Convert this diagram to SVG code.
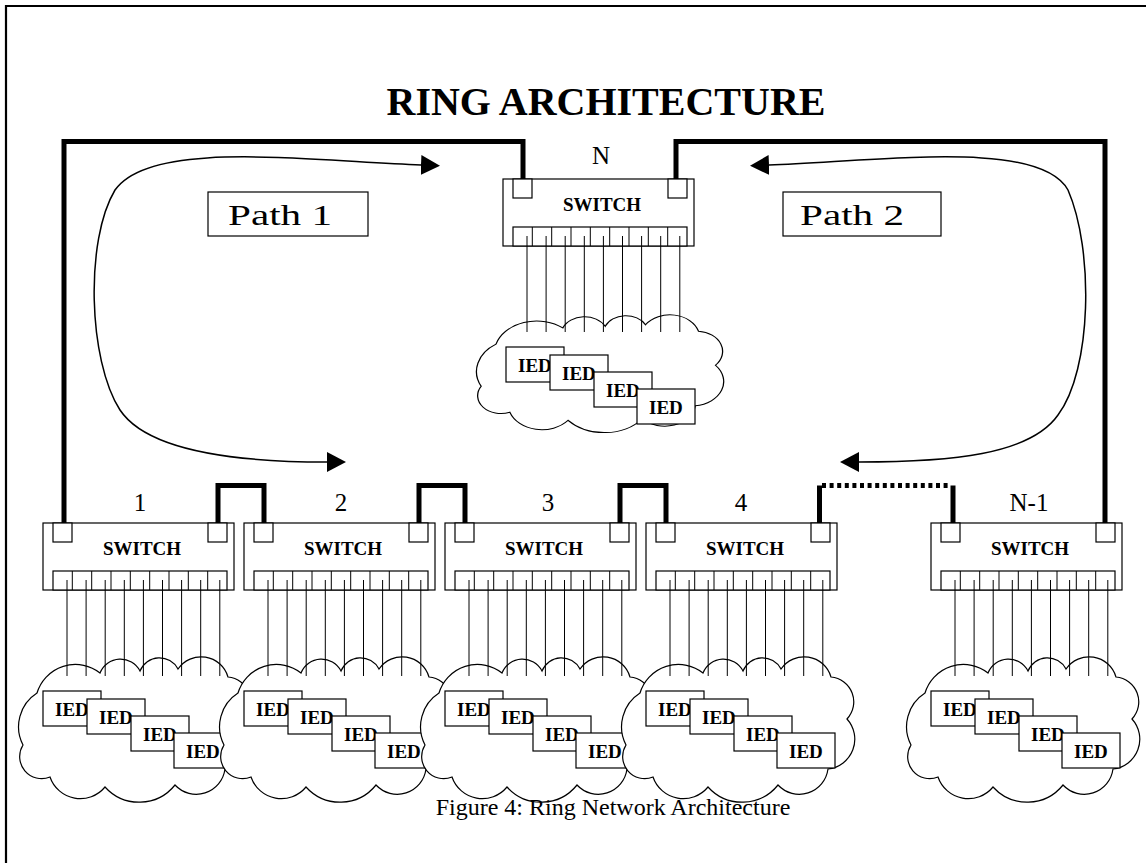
<svg xmlns="http://www.w3.org/2000/svg" xmlns:xlink="http://www.w3.org/1999/xlink" width="1146" height="863" viewBox="0 0 1146 863">
<style>
.thin{fill:#fff;stroke:#000;stroke-width:1.2}
.wire{fill:none;stroke:#000;stroke-width:1}
.ring{fill:none;stroke:#000;stroke-width:5}
.curve{fill:none;stroke:#000;stroke-width:1.5}
.lbl{font-family:"Liberation Serif",serif;font-size:25px;text-anchor:middle}
.sw{font-family:"Liberation Serif",serif;font-weight:bold;font-size:19px;text-anchor:middle}
.ied{font-family:"Liberation Serif",serif;font-weight:bold;font-size:19px}
.title{font-family:"Liberation Serif",serif;font-weight:bold;font-size:40px;text-anchor:middle}
.plabel{font-family:"Liberation Serif",serif;font-size:30px}
.cap{font-family:"Liberation Serif",serif;font-size:24px;text-anchor:middle}
</style>
<defs>
<marker id="ah" markerUnits="userSpaceOnUse" markerWidth="20" markerHeight="22" refX="0" refY="10" orient="auto-start-reverse" viewBox="0 0 20 20">
<path d="M0,0 L19,10 L0,20 Z" fill="#000"/>
</marker>
<path id="cloud" class="thin" d="M17 36 A40 40 0 0 1 80 16 A22 22 0 0 1 120 14 A21 21 0 0 1 158 12 A28 28 0 0 1 208 20 A25 25 0 0 1 224 62 A30 30 0 0 1 205 112 A29 29 0 0 1 155 128 A46 46 0 0 1 85 130 A32 32 0 0 1 30 120 A22 22 0 0 1 3 88 A40 40 0 0 1 17 36 Z"/>
<g id="switch">
<rect class="thin" x="0" y="0" width="191" height="67"/>
<rect class="thin" x="10" y="0" width="19" height="19"/>
<rect class="thin" x="165" y="0" width="19" height="19"/>
<rect class="thin" x="10" y="48" width="174" height="19"/>
<path class="wire" d="M29.3 48V67M48.7 48V67M68 48V67M87.3 48V67M106.7 48V67M126 48V67M145.3 48V67M164.7 48V67"/>
<path class="wire" d="M24 57V153M43.1 57V153M62.2 57V153M81.3 57V153M100.4 57V153M119.5 57V153M138.6 57V153M157.7 57V153M176.8 57V153"/>
</g>
</defs>
<rect x="0" y="0" width="1146" height="863" fill="#fff"/>
<path d="M6 863V6H1146" fill="none" stroke="#000" stroke-width="2.2"/>
<text class="title" x="606" y="115">RING ARCHITECTURE</text>

<g id="connectors">
<path class="ring" d="M64 523V141.5H523V179"/>
<path class="ring" d="M676 179V141.5H1105V523"/>
<path class="ring" d="M218 523V485.5H264V523"/>
<path class="ring" d="M419 523V485.5H465V523"/>
<path class="ring" d="M620 523V485.5H666V523"/>
<path class="ring" d="M819.5 523V485.5M953 485.5V523"/>
<path class="ring" d="M822 485.5H951" stroke-dasharray="4 3.6"/>
<path class="curve" d="M421 165 C300 160,150 140,115 190 C85 240,88 360,120 410 C150 455,250 462,327 462" marker-start="url(#ah)" marker-end="url(#ah)"/>
<path class="curve" d="M769 165 C890 160,1040 140,1068 190 C1094 250,1092 370,1058 415 C1030 455,950 462,859 462" marker-start="url(#ah)" marker-end="url(#ah)"/>
</g>

<g id="path1-label">
<rect class="thin" x="208" y="192" width="160" height="44"/>
<text class="plabel" x="228" y="225" textLength="104" lengthAdjust="spacingAndGlyphs">Path 1</text>
</g>
<g id="path2-label">
<rect class="thin" x="783" y="192" width="158" height="44"/>
<text class="plabel" x="800" y="225" textLength="104" lengthAdjust="spacingAndGlyphs">Path 2</text>
</g>

<g id="node-N" transform="translate(503,179)">
<use xlink:href="#cloud" transform="translate(-25,136) scale(1.06,0.81)"/>
<use xlink:href="#switch"/>
<text class="sw" x="99" y="32">SWITCH</text>
<text class="lbl" x="98" y="-15">N</text>
<g transform="translate(3,0)">
<rect class="thin" x="0" y="168" width="58" height="35"/><text class="ied" x="12" y="193">IED</text>
<rect class="thin" x="44" y="176" width="58" height="35"/><text class="ied" x="56" y="201">IED</text>
<rect class="thin" x="88" y="193" width="58" height="35"/><text class="ied" x="100" y="218">IED</text>
<rect class="thin" x="131" y="210" width="58" height="35"/><text class="ied" x="143" y="235">IED</text>
</g>
</g>

<g id="node-1" transform="translate(43,523)">
<use xlink:href="#cloud" transform="translate(-23,134)"/>
<use xlink:href="#switch"/>
<text class="sw" x="99" y="32">SWITCH</text>
<text class="lbl" x="97" y="-12">1</text>
<rect class="thin" x="0" y="168" width="58" height="35"/><text class="ied" x="12" y="193">IED</text>
<rect class="thin" x="44" y="176" width="58" height="35"/><text class="ied" x="56" y="201">IED</text>
<rect class="thin" x="88" y="193" width="58" height="35"/><text class="ied" x="100" y="218">IED</text>
<rect class="thin" x="131" y="210" width="58" height="35"/><text class="ied" x="143" y="235">IED</text>
</g>

<g id="node-2" transform="translate(244,523)">
<use xlink:href="#cloud" transform="translate(-23,134)"/>
<use xlink:href="#switch"/>
<text class="sw" x="99" y="32">SWITCH</text>
<text class="lbl" x="97" y="-12">2</text>
<rect class="thin" x="0" y="168" width="58" height="35"/><text class="ied" x="12" y="193">IED</text>
<rect class="thin" x="44" y="176" width="58" height="35"/><text class="ied" x="56" y="201">IED</text>
<rect class="thin" x="88" y="193" width="58" height="35"/><text class="ied" x="100" y="218">IED</text>
<rect class="thin" x="131" y="210" width="58" height="35"/><text class="ied" x="143" y="235">IED</text>
</g>

<g id="node-3" transform="translate(445,523)">
<use xlink:href="#cloud" transform="translate(-23,134)"/>
<use xlink:href="#switch"/>
<text class="sw" x="99" y="32">SWITCH</text>
<text class="lbl" x="103" y="-12">3</text>
<rect class="thin" x="0" y="168" width="58" height="35"/><text class="ied" x="12" y="193">IED</text>
<rect class="thin" x="44" y="176" width="58" height="35"/><text class="ied" x="56" y="201">IED</text>
<rect class="thin" x="88" y="193" width="58" height="35"/><text class="ied" x="100" y="218">IED</text>
<rect class="thin" x="131" y="210" width="58" height="35"/><text class="ied" x="143" y="235">IED</text>
</g>

<g id="node-4" transform="translate(646,523)">
<use xlink:href="#cloud" transform="translate(-23,134)"/>
<use xlink:href="#switch"/>
<text class="sw" x="99" y="32">SWITCH</text>
<text class="lbl" x="95" y="-12">4</text>
<rect class="thin" x="0" y="168" width="58" height="35"/><text class="ied" x="12" y="193">IED</text>
<rect class="thin" x="44" y="176" width="58" height="35"/><text class="ied" x="56" y="201">IED</text>
<rect class="thin" x="88" y="193" width="58" height="35"/><text class="ied" x="100" y="218">IED</text>
<rect class="thin" x="131" y="210" width="58" height="35"/><text class="ied" x="143" y="235">IED</text>
</g>

<g id="node-N-1" transform="translate(931,523)">
<use xlink:href="#cloud" transform="translate(-23,134)"/>
<use xlink:href="#switch"/>
<text class="sw" x="99" y="32">SWITCH</text>
<text class="lbl" x="98" y="-12">N-1</text>
<rect class="thin" x="0" y="168" width="58" height="35"/><text class="ied" x="12" y="193">IED</text>
<rect class="thin" x="44" y="176" width="58" height="35"/><text class="ied" x="56" y="201">IED</text>
<rect class="thin" x="88" y="193" width="58" height="35"/><text class="ied" x="100" y="218">IED</text>
<rect class="thin" x="131" y="210" width="58" height="35"/><text class="ied" x="143" y="235">IED</text>
</g>

<text class="cap" x="613" y="815">Figure 4: Ring Network Architecture</text>
</svg>
